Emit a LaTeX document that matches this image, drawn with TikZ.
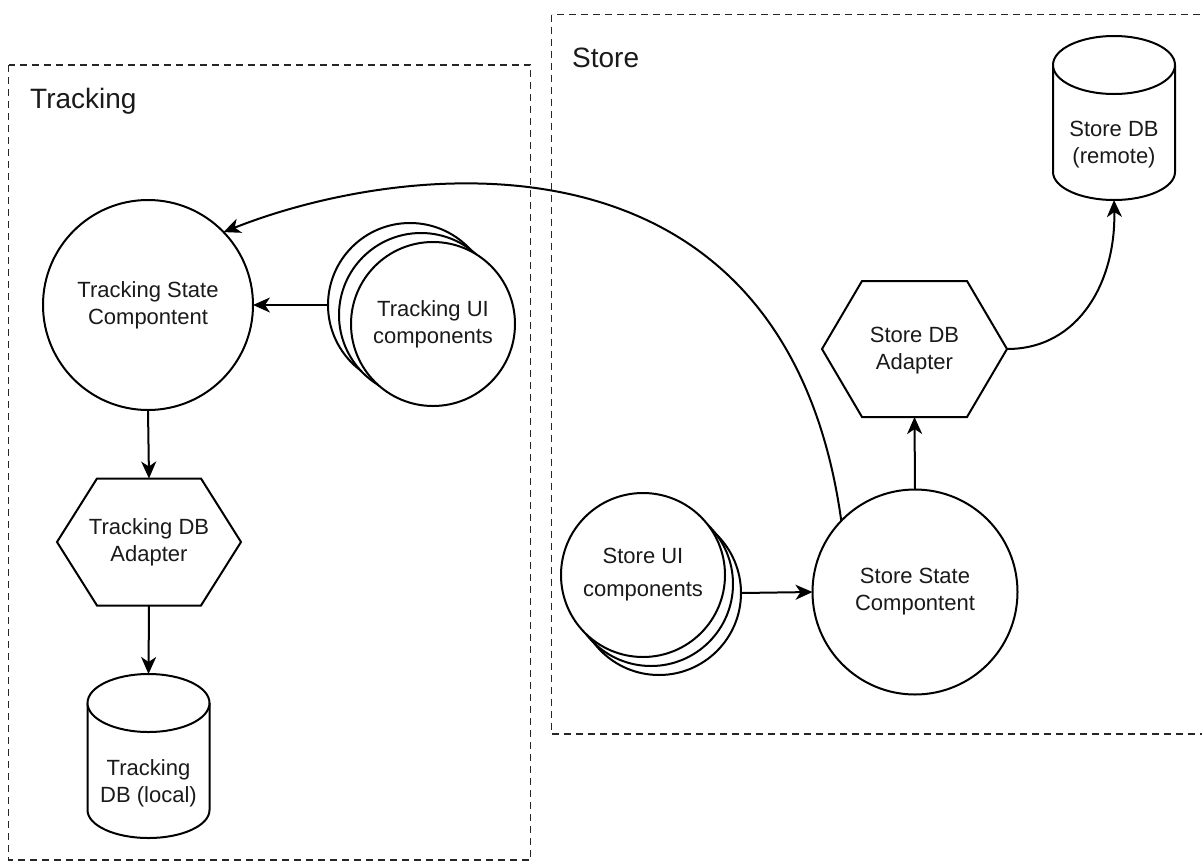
\documentclass[tikz,border=0pt]{standalone}
\usepackage{fontspec}
\setmainfont{Liberation Sans}
\usetikzlibrary{arrows.meta}
\definecolor{ink}{HTML}{1A1A1A}
\newcommand{\cylout}[1]{%
  \draw[shapeline] ([yshift=29pt]#1.north west) -- ([yshift=28pt]#1.south west)
    arc[start angle=180,end angle=360,x radius=61pt,y radius=28pt]
    -- ([yshift=29pt]#1.north east)
    arc[start angle=0,end angle=180,x radius=61pt,y radius=29pt] -- cycle;
  \draw[shapeline] ([yshift=29pt]#1.north west)
    arc[start angle=180,end angle=360,x radius=61pt,y radius=29pt];}
\newcommand{\hexout}[1]{%
  \draw[shapeline] (#1.west) -- ([xshift=40pt]#1.north west) -- ([xshift=-40pt]#1.north east)
    -- (#1.east) -- ([xshift=-40pt]#1.south east) -- ([xshift=40pt]#1.south west) -- cycle;}
\begin{document}
\begin{tikzpicture}[x=1pt,y=-1pt,
  shapeline/.style={draw=black,line width=2pt,fill=white,line join=miter},
  lbl/.style={font=\fontsize{22}{27}\selectfont,text=ink,align=center,inner sep=0pt,outer sep=0pt},
  ellnode/.style={lbl,circle,shapeline},
  boxnode/.style={lbl,rectangle,draw=none},
  grp/.style={draw=black!85,line width=1.9pt,dash pattern=on 7pt off 5pt},
  grptitle/.style={font=\fontsize{28}{34}\selectfont,text=ink,anchor=base west,inner sep=0pt},
  conn/.style={draw=black,line width=2pt,-{Stealth[length=17pt,width=15pt,inset=5pt]}}]
\clip (0,0) rectangle (1202,865);
\fill[white] (0,0) rectangle (1202,865);

% groups
\draw[grp] (8.5,65) rectangle (530.5,860);
\draw[grp] (551.5,14.5) rectangle (1230,734);
\node[grptitle] (ttitle) at (30,108) {Tracking};
\node[grptitle] (stitle) at (572,67) {Store};

% Tracking side
\node[ellnode,minimum size=210pt] (ts) at (148,305) {Tracking State\\Compontent};
\node[ellnode,minimum size=164pt] (tuib) at (410,305) {};
\node[ellnode,minimum size=164pt] (tuim) at (421,315) {};
\node[ellnode,minimum size=164pt] (tuif) at (433,324) {Tracking UI\\components};
\node[boxnode,minimum width=184pt,minimum height=127pt] (tha) at (149,542) {};
\hexout{tha}
\node[boxnode] at (tha) {Tracking DB\\Adapter};
\node[boxnode,minimum width=122pt,minimum height=106pt] (tdb) at (148.5,785) {};
\cylout{tdb}
\node[boxnode] at ([yshift=2pt]tdb) {Tracking\\DB (local)};
\coordinate (tdbtop) at ([yshift=58pt]tdb.north);

% Store side
\node[ellnode,minimum size=205pt] (ss) at (915,592) {Store State\\Compontent};
\node[ellnode,minimum size=164pt] (sub) at (659,593) {};
\node[ellnode,minimum size=164pt] (sum) at (651,584) {};
\node[ellnode,minimum size=164pt,font=\fontsize{22}{33}\selectfont] (suf) at (643,575) {Store UI\\components};
\node[boxnode,minimum width=185pt,minimum height=136pt] (sa) at (914.5,349) {};
\hexout{sa}
\node[boxnode] at ([yshift=-1.5pt]sa) {Store DB\\Adapter};
\node[boxnode,minimum width=122pt,minimum height=106pt] (sdb) at (1114,147) {};
\cylout{sdb}
\node[boxnode] at ([yshift=2pt]sdb) {Store DB\\(remote)};

% connectors
\draw[conn] (tuib.west) -- (ts.east);
\draw[conn] (ts.south) -- (tha.north);
\draw[conn] (tha.south) -- (tdbtop);
\draw[conn] (sub.east) -- (ss.west);
\draw[conn] (ss.north) -- (sa.south);
\draw[conn] (sa.east) .. controls (1080,349) and (1116,280) .. (sdb.south);
\draw[conn] (ss.136) .. controls (785,115) and (405,160) .. (ts.44);
\end{tikzpicture}
\end{document}
